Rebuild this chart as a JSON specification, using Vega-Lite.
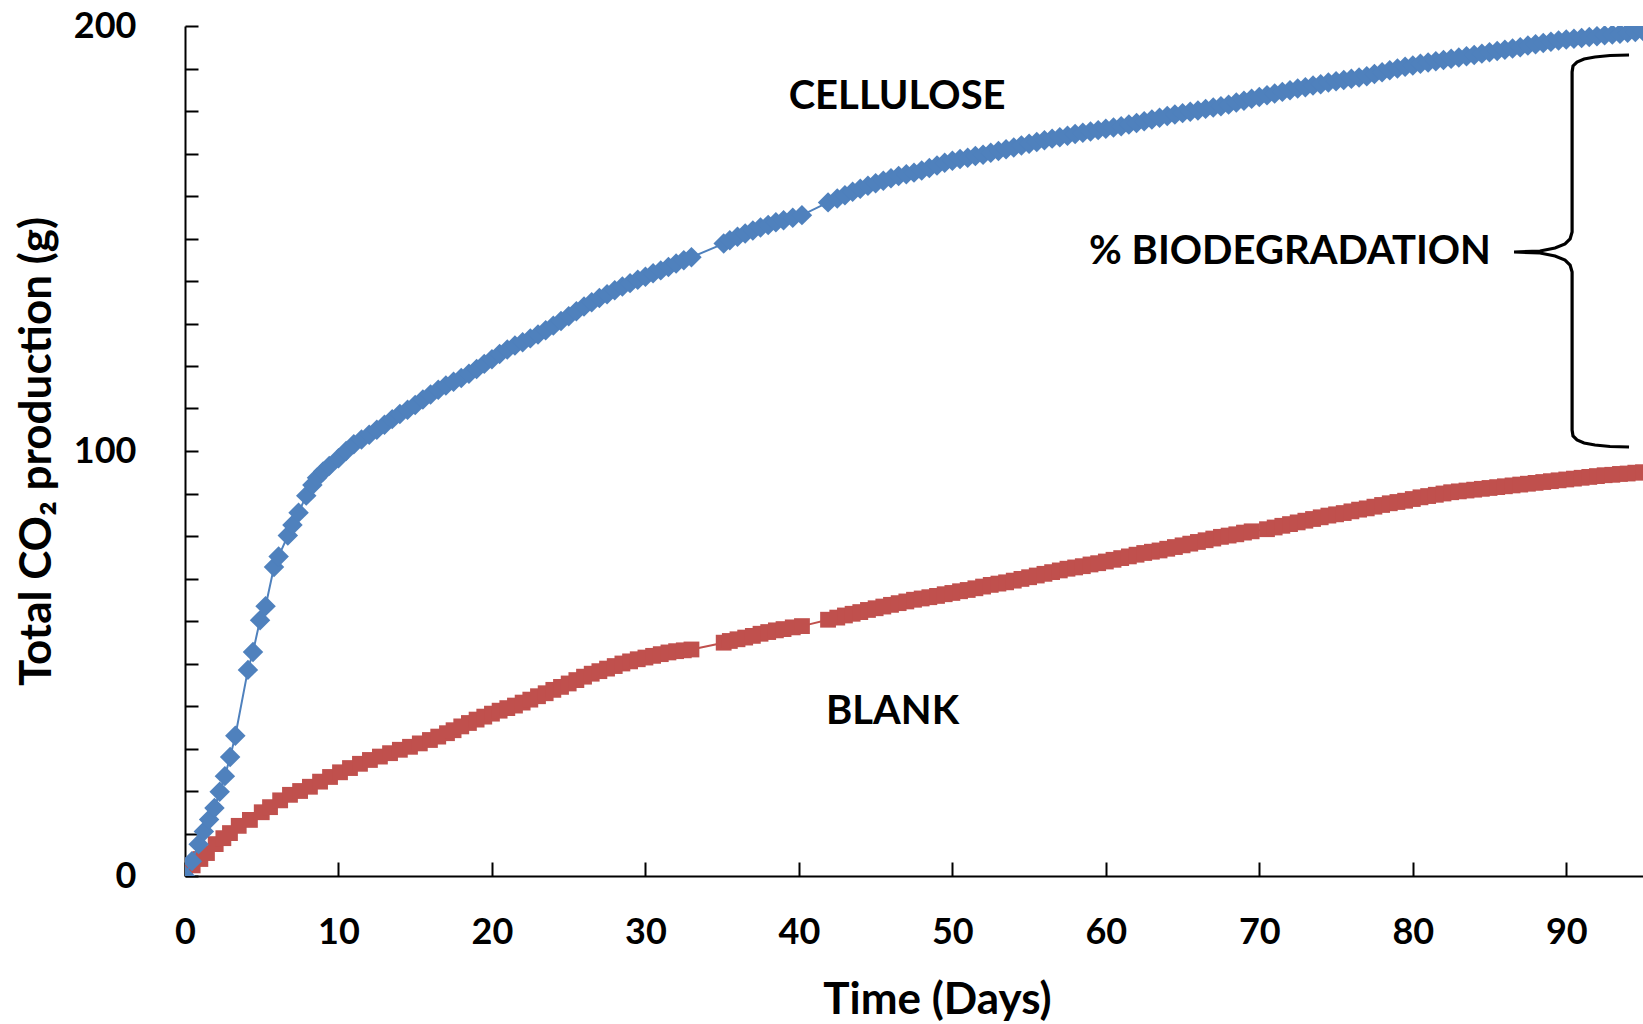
{
  "$schema": "https://vega.github.io/schema/vega-lite/v6.json",
  "autosize": {"type": "none"},
  "width": 1458,
  "height": 850,
  "padding": {"left": 185, "top": 26, "right": 0, "bottom": 148},
  "background": "white",
  "config": {
    "view": {"stroke": null},
    "font": "Lato",
    "axis": {
      "labelFont": "Lato", "labelFontWeight": "bold", "labelFontSize": 36, "labelColor": "black",
      "titleFont": "Lato", "titleFontWeight": "bold", "titleFontSize": 44, "titleColor": "black",
      "domainColor": "black", "domainWidth": 2, "tickColor": "black", "tickWidth": 2, "grid": false
    }
  },
  "datasets": {
    "cellulose": [
      {"day": 0, "co2": 0}, {"day": 0.45, "co2": 3.5}, {"day": 0.89, "co2": 7.5}, {"day": 1.23, "co2": 10.5},
      {"day": 1.57, "co2": 13.3}, {"day": 1.92, "co2": 16}, {"day": 2.26, "co2": 19.8}, {"day": 2.6, "co2": 23.5},
      {"day": 2.94, "co2": 28}, {"day": 3.28, "co2": 33}, {"day": 4.1, "co2": 48.5}, {"day": 4.43, "co2": 52.7},
      {"day": 4.89, "co2": 60.2}, {"day": 5.25, "co2": 63.5}, {"day": 5.8, "co2": 72.7}, {"day": 6.1, "co2": 75.2},
      {"day": 6.7, "co2": 80.1}, {"day": 7.0, "co2": 82.6}, {"day": 7.4, "co2": 85.5}, {"day": 7.9, "co2": 89.5},
      {"day": 8.3, "co2": 92}, {"day": 8.6, "co2": 93.7}, {"day": 9.0, "co2": 95.2}, {"day": 9.4, "co2": 96.5},
      {"day": 10, "co2": 98.3}, {"day": 10.5, "co2": 100.0}, {"day": 11, "co2": 101.6}, {"day": 11.5, "co2": 102.7}, {"day": 12, "co2": 103.8}, {"day": 12.5, "co2": 105.0}, {"day": 13, "co2": 106.2},
      {"day": 13.5, "co2": 107.5}, {"day": 14, "co2": 108.7}, {"day": 14.5, "co2": 109.7}, {"day": 15, "co2": 110.8}, {"day": 15.5, "co2": 112.1}, {"day": 16, "co2": 113.3}, {"day": 16.5, "co2": 114.4}, {"day": 17, "co2": 115.4},
      {"day": 17.5, "co2": 116.3}, {"day": 18, "co2": 117.2}, {"day": 18.5, "co2": 118.2}, {"day": 19, "co2": 119.3}, {"day": 19.5, "co2": 120.5}, {"day": 20, "co2": 121.6}, {"day": 20.5, "co2": 122.8}, {"day": 21, "co2": 123.9},
      {"day": 21.5, "co2": 124.8}, {"day": 22, "co2": 125.6}, {"day": 22.5, "co2": 126.5}, {"day": 23, "co2": 127.4}, {"day": 23.5, "co2": 128.4}, {"day": 24, "co2": 129.5}, {"day": 24.5, "co2": 130.6}, {"day": 25, "co2": 131.7},
      {"day": 25.5, "co2": 132.9}, {"day": 26, "co2": 134.0}, {"day": 26.5, "co2": 135.0}, {"day": 27, "co2": 136.0}, {"day": 27.5, "co2": 136.9}, {"day": 28, "co2": 137.8}, {"day": 28.5, "co2": 138.7}, {"day": 29, "co2": 139.5},
      {"day": 29.5, "co2": 140.3}, {"day": 30, "co2": 141.0}, {"day": 30.5, "co2": 141.8}, {"day": 31, "co2": 142.5}, {"day": 31.5, "co2": 143.3}, {"day": 32, "co2": 144.1}, {"day": 32.5, "co2": 144.9}, {"day": 33, "co2": 145.6},
      {"day": 35.1, "co2": 148.8}, {"day": 35.5, "co2": 149.6}, {"day": 36, "co2": 150.4}, {"day": 36.5, "co2": 151.2}, {"day": 37, "co2": 151.9}, {"day": 37.5, "co2": 152.6}, {"day": 38, "co2": 153.2},
      {"day": 38.5, "co2": 153.8}, {"day": 39, "co2": 154.3}, {"day": 39.6, "co2": 154.9}, {"day": 40.2, "co2": 155.5}, {"day": 41.9, "co2": 158.5}, {"day": 42.5, "co2": 159.4}, {"day": 43, "co2": 160.2},
      {"day": 43.5, "co2": 161.0}, {"day": 44, "co2": 161.7}, {"day": 44.5, "co2": 162.4}, {"day": 45, "co2": 163.0}, {"day": 45.5, "co2": 163.6}, {"day": 46, "co2": 164.2}, {"day": 46.5, "co2": 164.7}, {"day": 47, "co2": 165.1},
      {"day": 47.5, "co2": 165.5}, {"day": 48, "co2": 166.0}, {"day": 48.5, "co2": 166.6}, {"day": 49, "co2": 167.2}, {"day": 49.5, "co2": 167.8}, {"day": 50, "co2": 168.3}, {"day": 50.5, "co2": 168.7}, {"day": 51, "co2": 169.0},
      {"day": 51.5, "co2": 169.4}, {"day": 52, "co2": 169.7}, {"day": 52.5, "co2": 170.2}, {"day": 53, "co2": 170.6}, {"day": 53.5, "co2": 171.0}, {"day": 54, "co2": 171.4}, {"day": 54.5, "co2": 171.9}, {"day": 55, "co2": 172.3},
      {"day": 55.5, "co2": 172.7}, {"day": 56, "co2": 173.1}, {"day": 56.5, "co2": 173.5}, {"day": 57, "co2": 173.8}, {"day": 57.5, "co2": 174.2}, {"day": 58, "co2": 174.6}, {"day": 58.5, "co2": 174.9}, {"day": 59, "co2": 175.2},
      {"day": 59.5, "co2": 175.5}, {"day": 60, "co2": 175.8}, {"day": 60.5, "co2": 176.1}, {"day": 61, "co2": 176.4}, {"day": 61.5, "co2": 176.8}, {"day": 62, "co2": 177.2}, {"day": 62.5, "co2": 177.6}, {"day": 63, "co2": 178.0},
      {"day": 63.5, "co2": 178.4}, {"day": 64, "co2": 178.8}, {"day": 64.5, "co2": 179.2}, {"day": 65, "co2": 179.5}, {"day": 65.5, "co2": 179.8}, {"day": 66, "co2": 180.1}, {"day": 66.5, "co2": 180.5}, {"day": 67, "co2": 180.8},
      {"day": 67.5, "co2": 181.1}, {"day": 68, "co2": 181.5}, {"day": 68.5, "co2": 182.0}, {"day": 69, "co2": 182.4}, {"day": 69.5, "co2": 182.9}, {"day": 70, "co2": 183.3}, {"day": 70.5, "co2": 183.7}, {"day": 71, "co2": 184.1},
      {"day": 71.5, "co2": 184.5}, {"day": 72, "co2": 184.9}, {"day": 72.5, "co2": 185.3}, {"day": 73, "co2": 185.6}, {"day": 73.5, "co2": 186.0}, {"day": 74, "co2": 186.3}, {"day": 74.5, "co2": 186.7}, {"day": 75, "co2": 187.0},
      {"day": 75.5, "co2": 187.3}, {"day": 76, "co2": 187.6}, {"day": 76.5, "co2": 187.9}, {"day": 77, "co2": 188.2}, {"day": 77.5, "co2": 188.7}, {"day": 78, "co2": 189.1}, {"day": 78.5, "co2": 189.6}, {"day": 79, "co2": 190.0},
      {"day": 79.5, "co2": 190.4}, {"day": 80, "co2": 190.7}, {"day": 80.5, "co2": 191.1}, {"day": 81, "co2": 191.4}, {"day": 81.5, "co2": 191.7}, {"day": 82, "co2": 192.0}, {"day": 82.5, "co2": 192.3}, {"day": 83, "co2": 192.6},
      {"day": 83.5, "co2": 192.9}, {"day": 84, "co2": 193.2}, {"day": 84.5, "co2": 193.5}, {"day": 85, "co2": 193.8}, {"day": 85.5, "co2": 194.1}, {"day": 86, "co2": 194.4}, {"day": 86.5, "co2": 194.7}, {"day": 87, "co2": 195.0},
      {"day": 87.5, "co2": 195.4}, {"day": 88, "co2": 195.7}, {"day": 88.5, "co2": 196.0}, {"day": 89, "co2": 196.3}, {"day": 89.5, "co2": 196.6}, {"day": 90, "co2": 196.8}, {"day": 90.5, "co2": 197.0}, {"day": 91, "co2": 197.2},
      {"day": 91.5, "co2": 197.4}, {"day": 92, "co2": 197.6}, {"day": 92.5, "co2": 197.8}, {"day": 93, "co2": 198.0}, {"day": 93.5, "co2": 198.2}, {"day": 94, "co2": 198.4}, {"day": 94.5, "co2": 198.6}, {"day": 95, "co2": 198.8}
    ],
    "blank": [
      {"day": 0, "co2": 0}, {"day": 0.5, "co2": 2.5}, {"day": 1.0, "co2": 4}, {"day": 1.43, "co2": 5.4},
      {"day": 2.0, "co2": 7.5}, {"day": 2.5, "co2": 8.9}, {"day": 2.93, "co2": 10.1}, {"day": 3.5, "co2": 11.8}, {"day": 4.23, "co2": 13.2},
      {"day": 5.0, "co2": 15}, {"day": 5.54, "co2": 16.2}, {"day": 6.2, "co2": 17.8}, {"day": 6.84, "co2": 19.1},
      {"day": 7.5, "co2": 20.0}, {"day": 8.14, "co2": 21}, {"day": 8.8, "co2": 22.2}, {"day": 9.45, "co2": 23.3},
      {"day": 10.1, "co2": 24.4}, {"day": 10.75, "co2": 25.4}, {"day": 11.4, "co2": 26.4}, {"day": 12.05, "co2": 27.3},
      {"day": 12.7, "co2": 28.1}, {"day": 13.36, "co2": 28.9}, {"day": 14, "co2": 29.7}, {"day": 14.66, "co2": 30.4},
      {"day": 15.3, "co2": 31.2}, {"day": 15.96, "co2": 32}, {"day": 16.5, "co2": 32.8}, {"day": 17.07, "co2": 33.6},
      {"day": 17.5, "co2": 34.3}, {"day": 18, "co2": 35.2}, {"day": 18.5, "co2": 36.0}, {"day": 19, "co2": 36.8}, {"day": 19.5, "co2": 37.5}, {"day": 20, "co2": 38.2}, {"day": 20.5, "co2": 38.9}, {"day": 21, "co2": 39.5},
      {"day": 21.5, "co2": 40.1}, {"day": 22, "co2": 40.8}, {"day": 22.5, "co2": 41.5}, {"day": 23, "co2": 42.3}, {"day": 23.5, "co2": 43.0}, {"day": 24, "co2": 43.8}, {"day": 24.5, "co2": 44.5}, {"day": 25, "co2": 45.3},
      {"day": 25.5, "co2": 46.1}, {"day": 26, "co2": 46.9}, {"day": 26.5, "co2": 47.6}, {"day": 27, "co2": 48.2}, {"day": 27.5, "co2": 48.8}, {"day": 28, "co2": 49.4}, {"day": 28.5, "co2": 50.0}, {"day": 29, "co2": 50.5},
      {"day": 29.5, "co2": 51.0}, {"day": 30, "co2": 51.4}, {"day": 30.5, "co2": 51.8}, {"day": 31, "co2": 52.2}, {"day": 31.5, "co2": 52.6}, {"day": 32, "co2": 52.9}, {"day": 32.5, "co2": 53.1}, {"day": 33, "co2": 53.3},
      {"day": 35.1, "co2": 54.9}, {"day": 35.5, "co2": 55.3}, {"day": 36, "co2": 55.7}, {"day": 36.5, "co2": 56.1}, {"day": 37, "co2": 56.5}, {"day": 37.5, "co2": 57.0}, {"day": 38, "co2": 57.4},
      {"day": 38.5, "co2": 57.8}, {"day": 39, "co2": 58.1}, {"day": 39.6, "co2": 58.5}, {"day": 40.2, "co2": 58.8}, {"day": 41.9, "co2": 60.3}, {"day": 42.5, "co2": 60.8}, {"day": 43, "co2": 61.3},
      {"day": 43.5, "co2": 61.7}, {"day": 44, "co2": 62.1}, {"day": 44.5, "co2": 62.6}, {"day": 45, "co2": 63.0}, {"day": 45.5, "co2": 63.4}, {"day": 46, "co2": 63.8}, {"day": 46.5, "co2": 64.2}, {"day": 47, "co2": 64.6},
      {"day": 47.5, "co2": 65.0}, {"day": 48, "co2": 65.3}, {"day": 48.5, "co2": 65.6}, {"day": 49, "co2": 65.9}, {"day": 49.5, "co2": 66.3}, {"day": 50, "co2": 66.6}, {"day": 50.5, "co2": 67.0}, {"day": 51, "co2": 67.3},
      {"day": 51.5, "co2": 67.7}, {"day": 52, "co2": 68.1}, {"day": 52.5, "co2": 68.5}, {"day": 53, "co2": 68.8}, {"day": 53.5, "co2": 69.1}, {"day": 54, "co2": 69.5}, {"day": 54.5, "co2": 69.9}, {"day": 55, "co2": 70.3},
      {"day": 55.5, "co2": 70.7}, {"day": 56, "co2": 71.1}, {"day": 56.5, "co2": 71.5}, {"day": 57, "co2": 71.9}, {"day": 57.5, "co2": 72.3}, {"day": 58, "co2": 72.6}, {"day": 58.5, "co2": 72.9}, {"day": 59, "co2": 73.3},
      {"day": 59.5, "co2": 73.6}, {"day": 60, "co2": 74.0}, {"day": 60.5, "co2": 74.4}, {"day": 61, "co2": 74.8}, {"day": 61.5, "co2": 75.2}, {"day": 62, "co2": 75.6}, {"day": 62.5, "co2": 76.0}, {"day": 63, "co2": 76.3},
      {"day": 63.5, "co2": 76.6}, {"day": 64, "co2": 77.0}, {"day": 64.5, "co2": 77.4}, {"day": 65, "co2": 77.8}, {"day": 65.5, "co2": 78.2}, {"day": 66, "co2": 78.6}, {"day": 66.5, "co2": 79.0}, {"day": 67, "co2": 79.4},
      {"day": 67.5, "co2": 79.8}, {"day": 68, "co2": 80.1}, {"day": 68.5, "co2": 80.4}, {"day": 69, "co2": 80.8}, {"day": 69.5, "co2": 81.1}, {"day": 70.5, "co2": 81.6}, {"day": 71, "co2": 82.0},
      {"day": 71.5, "co2": 82.4}, {"day": 72, "co2": 82.8}, {"day": 72.5, "co2": 83.2}, {"day": 73, "co2": 83.6}, {"day": 73.5, "co2": 84.0}, {"day": 74, "co2": 84.4}, {"day": 74.5, "co2": 84.8}, {"day": 75, "co2": 85.1},
      {"day": 75.5, "co2": 85.4}, {"day": 76, "co2": 85.8}, {"day": 76.5, "co2": 86.2}, {"day": 77, "co2": 86.5}, {"day": 77.5, "co2": 86.9}, {"day": 78, "co2": 87.3}, {"day": 78.5, "co2": 87.7}, {"day": 79, "co2": 88.0},
      {"day": 79.5, "co2": 88.3}, {"day": 80, "co2": 88.7}, {"day": 80.5, "co2": 89.1}, {"day": 81, "co2": 89.4}, {"day": 81.5, "co2": 89.7}, {"day": 82, "co2": 90.0}, {"day": 82.5, "co2": 90.3}, {"day": 83, "co2": 90.5},
      {"day": 83.5, "co2": 90.7}, {"day": 84, "co2": 90.9}, {"day": 84.5, "co2": 91.1}, {"day": 85, "co2": 91.3}, {"day": 85.5, "co2": 91.5}, {"day": 86, "co2": 91.7}, {"day": 86.5, "co2": 91.9}, {"day": 87, "co2": 92.1},
      {"day": 87.5, "co2": 92.3}, {"day": 88, "co2": 92.5}, {"day": 88.5, "co2": 92.7}, {"day": 89, "co2": 92.9}, {"day": 89.5, "co2": 93.1}, {"day": 90, "co2": 93.3}, {"day": 90.5, "co2": 93.5}, {"day": 91, "co2": 93.7},
      {"day": 91.5, "co2": 93.9}, {"day": 92, "co2": 94.1}, {"day": 92.5, "co2": 94.3}, {"day": 93, "co2": 94.4}, {"day": 93.5, "co2": 94.6}, {"day": 94, "co2": 94.7}, {"day": 94.5, "co2": 94.9}, {"day": 95, "co2": 95.0}
    ],
    "brace": [
      {"i": 0, "day": 94.09, "co2": 193.18}, {"i": 1, "day": 92.85, "co2": 193.06}, {"i": 2, "day": 91.87, "co2": 192.71},
      {"i": 3, "day": 91.16, "co2": 192.24}, {"i": 4, "day": 90.70, "co2": 191.53}, {"i": 5, "day": 90.44, "co2": 190.59},
      {"i": 6, "day": 90.38, "co2": 189.18}, {"i": 7, "day": 90.38, "co2": 151.53}, {"i": 8, "day": 90.25, "co2": 149.88},
      {"i": 9, "day": 89.92, "co2": 148.71}, {"i": 10, "day": 89.27, "co2": 147.76}, {"i": 11, "day": 88.29, "co2": 147.06},
      {"i": 12, "day": 86.60, "co2": 146.82}, {"i": 13, "day": 88.29, "co2": 146.59}, {"i": 14, "day": 89.27, "co2": 145.88},
      {"i": 15, "day": 89.92, "co2": 144.94}, {"i": 16, "day": 90.25, "co2": 143.76}, {"i": 17, "day": 90.38, "co2": 142.12},
      {"i": 18, "day": 90.38, "co2": 104.94}, {"i": 19, "day": 90.44, "co2": 103.53}, {"i": 20, "day": 90.70, "co2": 102.59},
      {"i": 21, "day": 91.16, "co2": 101.88}, {"i": 22, "day": 91.87, "co2": 101.41}, {"i": 23, "day": 92.85, "co2": 101.06},
      {"i": 24, "day": 94.09, "co2": 100.94}
    ],
    "labels": [
      {"day": 46.4, "co2": 183.3, "text": "CELLULOSE"},
      {"day": 46.1, "co2": 38.6, "text": "BLANK"},
      {"day": 72.0, "co2": 146.8, "text": "% BIODEGRADATION"}
    ]
  },
  "encoding": {
    "x": {
      "field": "day", "type": "quantitative",
      "scale": {"domain": [0, 95], "nice": false, "zero": false},
      "axis": {
        "title": "Time (Days)", "values": [0, 10, 20, 30, 40, 50, 60, 70, 80, 90],
        "tickSize": -14, "labelPadding": 53, "titlePadding": 28, "labelFlush": false, "titleX": 752
      }
    },
    "y": {
      "field": "co2", "type": "quantitative",
      "scale": {"domain": [0, 200], "nice": false},
      "axis": {
        "title": "Total CO₂ production (g)",
        "values": [0, 10, 20, 30, 40, 50, 60, 70, 80, 90, 100, 110, 120, 130, 140, 150, 160, 170, 180, 190, 200],
        "labelExpr": "datum.value % 100 == 0 ? datum.label : ''",
        "tickSize": -13, "labelPadding": 62, "titlePadding": 14, "labelFlush": false
      }
    }
  },
  "layer": [
    {
      "mark": {"type": "rule", "color": "black", "strokeWidth": 2},
      "encoding": {"y": {"datum": 200}, "x": {"datum": 0}, "x2": {"datum": 95}}
    },
    {
      "data": {"name": "blank"},
      "mark": {"type": "line", "color": "#C0504D", "strokeWidth": 2, "clip": true},
      "encoding": {}
    },
    {
      "data": {"name": "blank"},
      "mark": {"type": "point", "shape": "square", "filled": true, "color": "#C0504D", "size": 250, "opacity": 1, "clip": true},
      "encoding": {}
    },
    {
      "data": {"name": "cellulose"},
      "mark": {"type": "line", "color": "#4F81BD", "strokeWidth": 2, "clip": true},
      "encoding": {}
    },
    {
      "data": {"name": "cellulose"},
      "mark": {"type": "point", "shape": "diamond", "filled": true, "color": "#4F81BD", "size": 420, "opacity": 1, "clip": true},
      "encoding": {}
    },
    {
      "data": {"name": "brace"},
      "mark": {"type": "line", "color": "black", "strokeWidth": 3.2, "clip": false},
      "encoding": {"order": {"field": "i", "type": "quantitative"}}
    },
    {
      "data": {"name": "labels"},
      "mark": {"type": "text", "font": "Lato", "fontWeight": "bold", "fontSize": 40, "color": "black", "align": "center", "baseline": "middle"},
      "encoding": {"text": {"field": "text"}}
    }
  ]
}
